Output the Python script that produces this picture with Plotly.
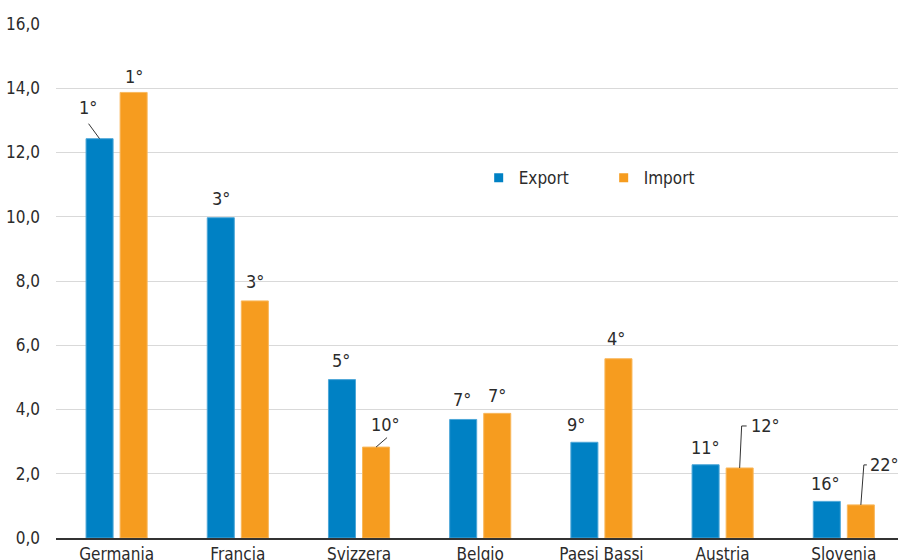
import plotly.graph_objects as go

# ---- data ----
countries = ["Germania", "Francia", "Svizzera", "Belgio", "Paesi Bassi", "Austria", "Slovenia"]
export_vals = [12.43, 9.97, 4.93, 3.69, 2.98, 2.28, 1.14]
import_vals = [13.87, 7.38, 2.83, 3.88, 5.58, 2.18, 1.03]
export_rank = ["1°", "3°", "5°", "7°", "9°", "11°", "16°"]
import_rank = ["1°", "3°", "10°", "7°", "4°", "12°", "22°"]
y_ticks = [0, 2, 4, 6, 8, 10, 12, 14, 16]

# ---- style ----
BLUE = "#0081C4"
ORANGE = "#F69C1F"
BLUE_EDGE = "#4DA7D8"
ORANGE_EDGE = "#F9B85C"
TEXT = "#2B2B2B"
FONT = "Liberation Sans Narrow, DejaVu Sans Condensed, Arial Narrow, sans-serif"
FS = 17
BARGAP = 0.438
GROUPGAP = 0.206
OFF = (1 - BARGAP) / 4  # bar centre offset from category centre

# label offsets (px) relative to bar top centre: (dx, dy_up, anchor)
exp_lab = [(-11.5, 31, "center"), (0, 19, "center"), (-1, 19, "center"), (-1.5, 20, "center"),
           (-8, 18, "center"), (0, 17, "center"), (-1.5, 18, "center")]
imp_lab = [(0, 16, "center"), (0, 19, "center"), (9, 23, "center"), (0, 18, "center"),
           (-2, 20, "center"), (9, 42, "left"), (7, 40, "left")]
# leader paths (px, y up) relative to bar top centre
exp_lead = {0: "M0,0 L-11,15"}
imp_lead = {2: "M0,0 L11,9.5", 5: "M0,0 L2,42 L7,42", 6: "M0,0 L3,40 L6,40"}

fig = go.Figure()
fig.add_trace(go.Bar(x=countries, y=export_vals, name="Export", showlegend=False,
                     marker=dict(color=BLUE, line=dict(color=BLUE_EDGE, width=1))))
fig.add_trace(go.Bar(x=countries, y=import_vals, name="Import", showlegend=False,
                     marker=dict(color=ORANGE, line=dict(color=ORANGE_EDGE, width=1))))
# legend entries with small square swatches
fig.add_trace(go.Scatter(x=[None], y=[None], mode="markers", name="Export",
                         marker=dict(symbol="square", size=9, color=BLUE)))
fig.add_trace(go.Scatter(x=[None], y=[None], mode="markers", name="Import",
                         marker=dict(symbol="square", size=9, color=ORANGE)))

annotations = []
shapes = []
for vals, ranks, labs, leads, sgn in [
    (export_vals, export_rank, exp_lab, exp_lead, -1),
    (import_vals, import_rank, imp_lab, imp_lead, 1),
]:
    for i, (v, r, (dx, dy, anc)) in enumerate(zip(vals, ranks, labs)):
        xc = i + sgn * OFF
        annotations.append(dict(x=xc, y=v, xref="x", yref="y", text=r, showarrow=False,
                                xanchor=anc, yanchor="middle", xshift=dx, yshift=dy,
                                font=dict(size=FS + 1, color=TEXT, family=FONT)))
        if i in leads:
            shapes.append(dict(type="path", xref="x", yref="y", xsizemode="pixel",
                               ysizemode="pixel", xanchor=xc, yanchor=v, path=leads[i],
                               line=dict(color="#333333", width=1)))

fig.update_layout(
    width=898, height=560,
    margin=dict(l=56, r=0, t=24, b=22, autoexpand=False),
    paper_bgcolor="white", plot_bgcolor="white",
    barmode="group", bargap=BARGAP, bargroupgap=GROUPGAP,
    separators=",.",
    font=dict(family=FONT, size=FS, color=TEXT),
    showlegend=True,
    legend=dict(orientation="h", x=0.502, y=0.70, xanchor="left", yanchor="middle",
                font=dict(size=FS, color=TEXT, family=FONT),
                entrywidth=80, itemwidth=30, bgcolor="rgba(0,0,0,0)"),
    annotations=annotations,
    shapes=shapes,
)
fig.update_xaxes(range=[-0.5, 6.447], showgrid=False, showline=True, linecolor="#333333",
                 linewidth=1.5, ticks="", ticklabelstandoff=0, automargin=False,
                 tickfont=dict(size=FS, color=TEXT), zeroline=False)
fig.update_yaxes(range=[0, 16], tickvals=y_ticks, tickformat=".1f", showgrid=True,
                 gridcolor="#D9D9D9", gridwidth=1, zeroline=False, ticks="", automargin=False,
                 ticklabelstandoff=15, tickfont=dict(size=FS, color=TEXT), showline=False)

fig.write_html("out.html")
